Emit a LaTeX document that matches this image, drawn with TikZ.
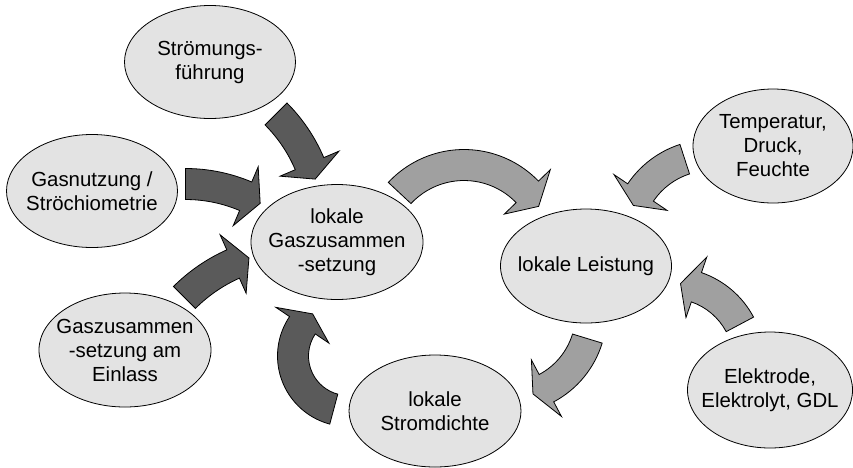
\documentclass[tikz,border=0pt]{standalone}
\usepackage{fontspec}
\setmainfont{Liberation Sans}
\usetikzlibrary{shapes.geometric,calc}
\definecolor{bubblegray}{HTML}{E3E3E3}
\definecolor{darkarrow}{HTML}{5A5A5A}
\definecolor{lightarrow}{HTML}{A0A0A0}
\tikzset{bubble/.style={ellipse, draw=black, line width=0.8pt, fill=bubblegray,
  inner xsep=-15pt, inner ysep=0pt, align=center, font=\fontsize{20.4}{24}\selectfont}}
% curved block arrow: fill, centre, radius, start angle, end angle, tip angle
\newcommand{\blockarc}[6]{%
  \filldraw[fill=#1, draw=black, line width=0.8pt]
    ($(#2)+(#4:#3+15.5)$) arc[start angle=#4, end angle=#5, radius=#3+15.5]
    -- ($(#2)+(#5:#3+32)$) -- ($(#2)+(#6:#3)$) -- ($(#2)+(#5:#3-32)$)
    -- ($(#2)+(#5:#3-15.5)$) arc[start angle=#5, end angle=#4, radius=#3-15.5]
    -- cycle;}
\begin{document}
\begin{tikzpicture}[x=1pt, y=-1pt]
\useasboundingbox (0,0) rectangle (853,467);
\node[bubble, minimum width=171pt, minimum height=113pt] (stroem) at (210,62) {Strömungs-\\führung};
\node[bubble, minimum width=171pt, minimum height=113pt] (gasnutz) at (92,191) {Gasnutzung /\\Ströchiometrie};
\node[bubble, minimum width=172pt, minimum height=115pt] (gaszus) at (337,242) {lokale\\Gaszusammen\\-setzung};
\node[bubble, minimum width=172pt, minimum height=114pt] (einlass) at (125,350) {Gaszusammen\\-setzung am\\Einlass};
\node[bubble, minimum width=172pt, minimum height=112pt] (stromd) at (435,411) {lokale\\Stromdichte};
\node[bubble, minimum width=171pt, minimum height=114pt] (leistung) at (586,266) {lokale Leistung};
\node[bubble, minimum width=160pt, minimum height=114pt] (temp) at (773,146) {Temperatur,\\Druck,\\Feuchte};
\node[bubble, minimum width=165pt, minimum height=116pt] (elektr) at (770,390) {Elektrode,\\Elektrolyt, GDL};
% dark arrows into lokale Gaszusammensetzung
\blockarc{darkarrow}{165,225}{157}{-45}{-23}{-17}
\blockarc{darkarrow}{185.5,338}{154}{-90}{-67}{-61}
\blockarc{darkarrow}{299,412}{162}{-135}{-114}{-108}
\blockarc{darkarrow}{348,356}{55}{105}{214}{230}
% light arrows around lokale Leistung
\blockarc{lightarrow}{464,253}{88}{-137}{-44}{-32}
\blockarc{lightarrow}{711,240}{85}{-108}{-146}{-156}
\blockarc{lightarrow}{671,361}{78}{-28}{-71}{-83}
\blockarc{lightarrow}{507,314}{84}{17}{62}{72}
\end{tikzpicture}
\end{document}
